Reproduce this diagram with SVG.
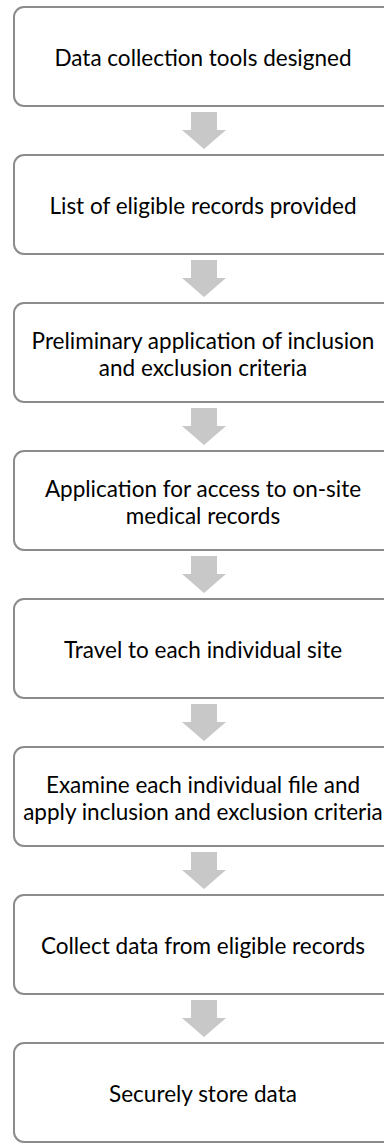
<svg xmlns="http://www.w3.org/2000/svg" width="384" height="1144" viewBox="0 0 384 1144">
<style>
.box{fill:#ffffff;stroke:#8c8c8c;stroke-width:2}
.lbl{font-family:Lato,"Open Sans","Liberation Sans",sans-serif;font-size:22.5px;fill:#000000;text-anchor:middle}
.arr{fill:#c8c8c8}
</style>
<defs>
<path id="dn" class="arr" d="M-13,0 H13 V18 H22 L0,37 L-22,18 H-13 Z"/>
</defs>
<rect width="384" height="1144" fill="#ffffff"/>
<g id="connectors">
<use href="#dn" x="204" y="112"/>
<use href="#dn" x="204" y="260"/>
<use href="#dn" x="204" y="408"/>
<use href="#dn" x="204" y="556"/>
<use href="#dn" x="204" y="704"/>
<use href="#dn" x="204" y="852"/>
<use href="#dn" x="204" y="1000"/>
</g>
<g id="n1"><rect class="box" x="14" y="7" width="380" height="99" rx="10"/><text class="lbl" x="203" y="66">Data collection tools designed</text></g>
<g id="n2"><rect class="box" x="14" y="155" width="380" height="99" rx="10"/><text class="lbl" x="203" y="214">List of eligible records provided</text></g>
<g id="n3"><rect class="box" x="14" y="303" width="380" height="99" rx="10"/><text class="lbl" x="203" y="349">Preliminary application of inclusion</text><text class="lbl" x="203" y="376">and exclusion criteria</text></g>
<g id="n4"><rect class="box" x="14" y="451" width="380" height="99" rx="10"/><text class="lbl" x="203" y="497">Application for access to on-site</text><text class="lbl" x="203" y="524">medical records</text></g>
<g id="n5"><rect class="box" x="14" y="599" width="380" height="99" rx="10"/><text class="lbl" x="203" y="658">Travel to each individual site</text></g>
<g id="n6"><rect class="box" x="14" y="747" width="380" height="99" rx="10"/><text class="lbl" x="203" y="793">Examine each individual file and</text><text class="lbl" x="203" y="820">apply inclusion and exclusion criteria</text></g>
<g id="n7"><rect class="box" x="14" y="895" width="380" height="99" rx="10"/><text class="lbl" x="203" y="954">Collect data from eligible records</text></g>
<g id="n8"><rect class="box" x="14" y="1043" width="380" height="99" rx="10"/><text class="lbl" x="203" y="1102">Securely store data</text></g>
</svg>
